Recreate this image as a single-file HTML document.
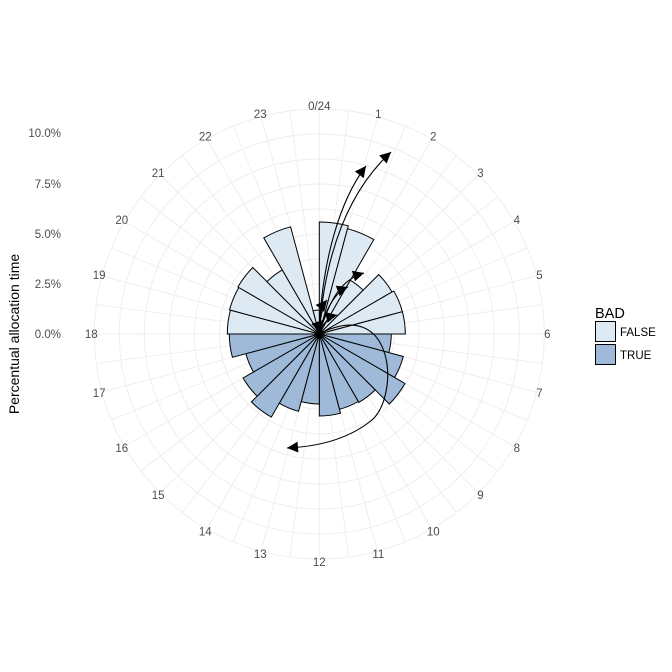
<!DOCTYPE html>
<html><head><meta charset="utf-8"><style>
html,body{margin:0;padding:0;background:#fff;}
svg{display:block;font-family:"Liberation Sans",sans-serif;}
</style></head><body>
<svg id="s" width="672" height="672" viewBox="0 0 672 672" xmlns="http://www.w3.org/2000/svg">
<g id="grid" stroke="#ededed" stroke-width="0.9" fill="none"></g>
<g id="bars" stroke="#000" stroke-width="1"></g>
<g id="arrows" stroke="#000" stroke-width="1.1" fill="none">
<path d="M319,334 C322,260 340,200 366,166"/>
<path d="M319,334 C325,250 350,190 391,152"/>
<path d="M319,334 C330,300 340,280 364,273"/>
<path d="M319,334 C325,310 335,292 348,287"/>
<path d="M319,334 C320,320 322,306 327,300"/>
<path d="M319,334 C322,325 328,317 337,315"/>
<path d="M319,334 C319,328 320,323 323,320"/>
<path d="M319,334 C395,295 400,395 372,420 C345,442 310,447 287,448"/>
</g>
<g id="heads" fill="#000"></g>
<g id="labels" fill="#4d4d4d" font-size="11.5" text-anchor="middle"></g>
<g fill="#4d4d4d" font-size="11.5" text-anchor="end">
<text x="61" y="137">10.0%</text>
<text x="61" y="188">7.5%</text>
<text x="61" y="238">5.0%</text>
<text x="61" y="288">2.5%</text>
<text x="61" y="338">0.0%</text>
</g>
<text transform="translate(19,334) rotate(-90)" text-anchor="middle" font-size="14" fill="#000">Percentual allocation time</text>
<text x="595" y="318" font-size="14.5" fill="#000">BAD</text>
<rect x="595.5" y="321.5" width="20" height="20" fill="#deeaf3" stroke="#000"/>
<rect x="595.5" y="344.5" width="20" height="20" fill="#9ebad8" stroke="#000"/>
<text x="620" y="336" font-size="11.5" fill="#000">FALSE</text>
<text x="620" y="359" font-size="11.5" fill="#000">TRUE</text>
</svg>
<script>
var cx=319.3,cy=334;
function P(r,a){var t=a*Math.PI/180;return [cx+r*Math.sin(t),cy-r*Math.cos(t)];}
var g=document.getElementById('grid'),h='';
for(var r=25;r<=225;r+=25)h+='<circle cx="'+cx+'" cy="'+cy+'" r="'+r+'"/>';
for(var i=0;i<48;i++){var p=P(225,i*7.5);h+='<line x1="'+cx+'" y1="'+cy+'" x2="'+p[0].toFixed(1)+'" y2="'+p[1].toFixed(1)+'"/>';}
g.innerHTML=h;
var R=[112,109,62,84,86,86,72,87,99,79,78,82,70,80,96,88,76,90,92,93,94,74,111,24];
var b='';
for(var k=0;k<24;k++){var a0=k*15,a1=a0+15,r=R[k],p0=P(r,a0),p1=P(r,a1);
var c=(k>=6&&k<18)?'#9ebad8':'#deeaf3';
b+='<path fill="'+c+'" d="M'+cx+','+cy+' L'+p0[0].toFixed(1)+','+p0[1].toFixed(1)+' A'+r+','+r+' 0 0 1 '+p1[0].toFixed(1)+','+p1[1].toFixed(1)+' Z"/>';}
document.getElementById('bars').innerHTML=b;
var L='';
for(var k=0;k<24;k++){var p=P(228,k*15);L+='<text x="'+p[0].toFixed(1)+'" y="'+(p[1]+4).toFixed(1)+'">'+(k==0?'0/24':k)+'</text>';}
document.getElementById('labels').innerHTML=L;
var heads=[[366,166,340,200],[391,152,350,190],[364,273,340,280],[348,287,335,292],[327,300,322,306],[337,315,328,317],[323,320,320,323],[287,448,310,446]];
var H='';
heads.forEach(function(q){var dx=q[0]-q[2],dy=q[1]-q[3],l=Math.hypot(dx,dy);dx/=l;dy/=l;var s=11,w=5.5;
var bx=q[0]-dx*s,by=q[1]-dy*s;
H+='<polygon points="'+q[0]+','+q[1]+' '+(bx-dy*w).toFixed(1)+','+(by+dx*w).toFixed(1)+' '+(bx+dy*w).toFixed(1)+','+(by-dx*w).toFixed(1)+'"/>';});
document.getElementById('heads').innerHTML=H;
</script>
</body></html>
